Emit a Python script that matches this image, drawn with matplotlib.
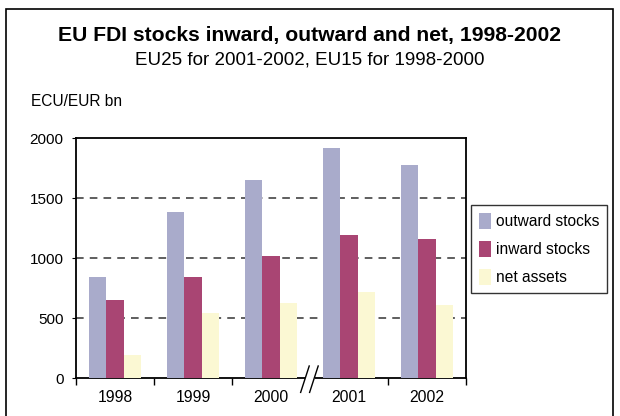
import numpy as np
import matplotlib
matplotlib.use("Agg")
import matplotlib.pyplot as plt
from matplotlib.patches import Rectangle
from matplotlib.lines import Line2D

plt.rcParams["font.family"] = ["Liberation Sans", "DejaVu Sans"]

# ── data ────────────────────────────────────────────
years   = ["1998", "1999", "2000", "2001", "2002"]
outward = [842, 1383, 1650, 1917, 1775]
inward  = [650, 840, 1017, 1192, 1158]
net     = [192, 545, 625, 717, 608]
series_labels = ["outward stocks", "inward stocks", "net assets"]
colors  = ["#A9ABCB", "#A94573", "#FBF8D3"]

fig = plt.figure(figsize=(6.2, 4.16), dpi=100)
ax = fig.add_axes([76/620, 1 - 378/416, 390/620, 240/416])

x = np.arange(len(years))
w = 0.225
for i, (vals, lab, c) in enumerate(zip([outward, inward, net], series_labels, colors)):
    ax.bar(x + (i - 1) * w, vals, width=w, color=c, label=lab, zorder=3)

ax.set_xlim(-0.5, 4.5)
ax.set_ylim(0, 2000)
ax.set_yticks([0, 500, 1000, 1500, 2000])
ax.tick_params(axis="y", length=3, width=0.8, labelsize=11, pad=6)
ax.set_xticks(x)
ax.set_xticklabels(years)
ax.tick_params(axis="x", which="major", length=0, labelsize=11.3, pad=9)
ax.set_xticks([-0.5, 0.5, 1.5, 3.5, 4.5], minor=True)
ax.tick_params(axis="x", which="minor", length=5, width=1, direction="out")

for v in [500, 1000, 1500]:
    ax.axhline(v, color="#333333", lw=1.1, ls=(0, (5, 4)), zorder=1)

for s in ax.spines.values():
    s.set_linewidth(1.3)

# axis break between 2000 and 2001
ax.add_patch(Rectangle((2.43, -20), 0.14, 40, transform=ax.transData,
                       facecolor="white", edgecolor="none", clip_on=False, zorder=5))
for dx in [0.0, 0.115]:
    ax.add_line(Line2D([2.38 + dx, 2.49 + dx], [-120, 100], color="black", lw=1,
                       clip_on=False, zorder=6))

leg = ax.legend(loc="upper left", bbox_to_anchor=(471/620, 1 - 205/416),
                bbox_transform=fig.transFigure, fontsize=11.2, frameon=True,
                fancybox=False, edgecolor="black", handlelength=0.8, handleheight=1.2,
                handletextpad=0.3, labelspacing=0.75, borderpad=0.5, borderaxespad=0)
leg.get_frame().set_linewidth(1)

fig.text(0.5, 1 - 36/416, "EU FDI stocks inward, outward and net, 1998-2002",
         ha="center", va="center", fontsize=15.2, fontweight="bold")
fig.text(0.5, 1 - 60/416, "EU25 for 2001-2002, EU15 for 1998-2000",
         ha="center", va="center", fontsize=13.5)
fig.text(31/620, 1 - 101/416, "ECU/EUR bn", ha="left", va="center", fontsize=11.2)

# outer frame
fig.add_artist(Rectangle((6/620, -0.1), 607/620, 1.1 - 9/416, transform=fig.transFigure,
                         facecolor="none", edgecolor="black", lw=1.2))

fig.savefig("out.png", dpi=100)
